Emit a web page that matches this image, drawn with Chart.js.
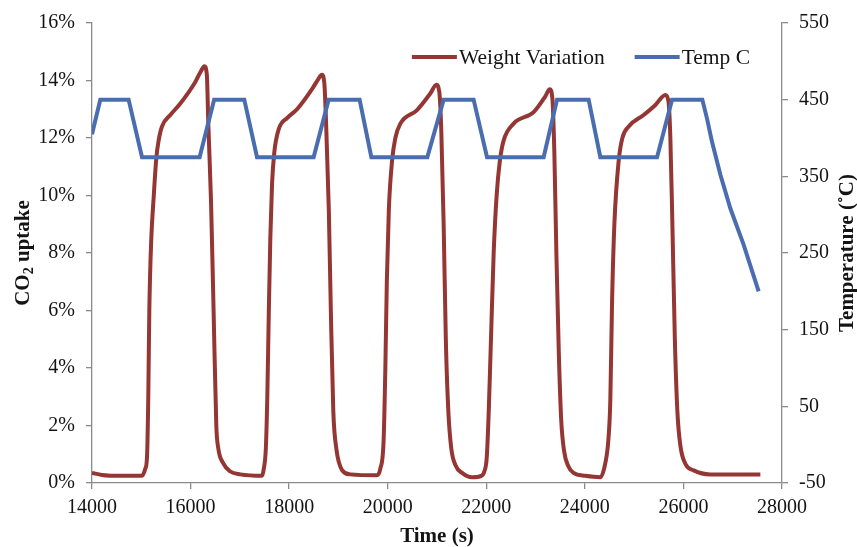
<!DOCTYPE html>
<html>
<head>
<meta charset="utf-8">
<title>CO2 uptake cycles</title>
<script src="https://cdn.jsdelivr.net/npm/chart.js@4.4.1/dist/chart.umd.min.js"></script>
<style>
    html, body { margin: 0; padding: 0; background: #fff; }
    #wrap { width: 857px; height: 547px; }
</style>
</head>
<body>
<div id="wrap"><canvas id="tgaChart" width="857" height="547"></canvas></div>
<script>
// TGA run: sample weight change (%) and furnace temperature vs time
const timeWeight = [
    14000, 14200, 14600, 15015, 15082, 15116, 15142, 15163, 15203, 15250, 15305, 15351, 15420, 15589, 15792, 16096, 16218, 16279,
    16330, 16360, 16415, 16467, 16522, 16563, 16658, 16806, 17009, 17450,
    17486, 17527, 17557, 17588, 17618, 17653, 17699, 17787, 17963, 18160, 18464, 18592, 18663,
    18714, 18754, 18805, 18846, 18896, 18957, 19073, 19241, 19783,
    19850, 19917, 19952, 19982, 20023, 20088, 20155, 20256, 20595, 20865, 20987,
    21047, 21088, 21135, 21179, 21230, 21290, 21380, 21508, 21711, 21900,
    21960, 22010, 22050, 22095, 22150, 22210, 22275, 22350, 22555, 22961, 23198, 23286,
    23340, 23381, 23422, 23472, 23520, 23580, 23660, 23770, 24010, 24314,
    24416, 24477, 24517, 24552, 24599, 24686, 24761, 24889, 25193, 25431, 25633,
    25694, 25735, 25776, 25826, 25877, 25938, 26039, 26208, 26547, 27561
];
const weightPct = [
    0.35, 0.28, 0.25, 0.25, 0.5, 0.9, 3, 6, 8.5, 9.9, 11.3, 11.9, 12.4, 12.8, 13.2, 13.95, 14.35, 14.5,
    14.2, 12.5, 9.8, 6, 2, 1.2, 0.7, 0.4, 0.3, 0.25,
    0.5, 1.2, 3, 6, 8.5, 10.4, 11.5, 12.3, 12.7, 13.0, 13.7, 14.05, 14.2,
    13.9, 12.3, 9.5, 6, 2.5, 1.2, 0.45, 0.3, 0.27,
    0.5, 1.5, 4, 7, 9.5, 11.2, 12.0, 12.5, 12.97, 13.55, 13.85,
    13.6, 12.2, 9, 5, 2.5, 1.2, 0.6, 0.35, 0.2, 0.25,
    0.4, 0.9, 2.5, 5, 8, 10, 11.2, 11.9, 12.5, 12.9, 13.45, 13.7,
    13.4, 11.5, 8, 4.5, 2.2, 1.1, 0.6, 0.35, 0.25, 0.2,
    0.7, 1.5, 2.9, 6.3, 9, 11.2, 12.0, 12.4, 12.8, 13.15, 13.5,
    13.3, 12, 9, 5, 2.5, 1.3, 0.67, 0.44, 0.3, 0.3
];

const timeTemp = [
    14000, 14168, 14743, 15015, 16183, 16478, 17090, 17348, 18497, 18801, 19430, 19668,
    20804, 21135, 21743, 22015, 23164, 23436, 24077, 24314, 25465, 25769, 26384,
    26480, 26580, 26750, 26953, 27221, 27526
];
const tempC = [
    405, 450, 450, 375, 375, 450, 450, 375, 375, 450, 450, 375,
    375, 450, 450, 375, 375, 450, 450, 375, 375, 450, 450,
    425, 395, 352, 308, 261, 200
];

const timeTicks = [14000, 16000, 18000, 20000, 22000, 24000, 26000, 28000];
const uptakeTicks = [0, 2, 4, 6, 8, 10, 12, 14, 16];
const tempTicks = [-50, 50, 150, 250, 350, 450, 550];

const FONT = '"Liberation Serif", "Times New Roman", serif';
const TEXT = '#141414';
const AXIS = '#8a8a8a';

// legend drawn inside the plot, top right
const insideLegend = {
    id: 'insideLegend',
    afterDatasetsDraw(chart) {
        const { ctx, chartArea } = chart;
        const sets = chart.data.datasets;
        const sample = 45, gap = 2, spacing = 30;
        let x = chartArea.right - 32;
        const y = chartArea.top + 34;
        ctx.save();
        ctx.font = '21.5px ' + FONT;
        ctx.textBaseline = 'middle';
        ctx.textAlign = 'left';
        for (let i = sets.length - 1; i >= 0; i--) {
            const w = ctx.measureText(sets[i].label).width;
            x -= w;
            ctx.fillStyle = TEXT;
            ctx.fillText(sets[i].label, x, y + 1);
            x -= gap;
            ctx.strokeStyle = sets[i].borderColor;
            ctx.lineWidth = 4;
            ctx.beginPath();
            ctx.moveTo(x - sample, y);
            ctx.lineTo(x, y);
            ctx.stroke();
            x -= sample + spacing;
        }
        ctx.restore();
    }
};

// both y titles read bottom-to-top; the left one needs a subscript
const sideTitles = {
    id: 'sideTitles',
    afterDraw(chart) {
        const { ctx, chartArea } = chart;
        const midY = (chartArea.top + chartArea.bottom) / 2;
        const big = 'bold 21px ' + FONT;
        const small = 'bold 14px ' + FONT;

        ctx.save();
        ctx.fillStyle = TEXT;
        ctx.textBaseline = 'middle';
        ctx.textAlign = 'left';
        ctx.translate(chart.scales.y.left + 24, midY);
        ctx.rotate(-Math.PI / 2);
        ctx.font = big;
        const wCO = ctx.measureText('CO').width;
        const wRest = ctx.measureText(' uptake').width;
        ctx.font = small;
        const w2 = ctx.measureText('2').width;
        let x = -(wCO + w2 + wRest) / 2;
        ctx.font = big;
        ctx.fillText('CO', x, 0);
        x += wCO;
        ctx.font = small;
        ctx.fillText('2', x, 5);
        x += w2;
        ctx.font = big;
        ctx.fillText(' uptake', x, 0);
        ctx.restore();

        ctx.save();
        ctx.fillStyle = TEXT;
        ctx.textBaseline = 'middle';
        ctx.textAlign = 'center';
        ctx.font = big;
        ctx.translate(chart.scales.y1.right - 9, midY);
        ctx.rotate(-Math.PI / 2);
        ctx.fillText('Temperature (\u02DAC)', 0, 0);
        ctx.restore();
    }
};

function fixedTicks(list) {
    return scale => { scale.ticks = list.map(v => ({ value: v })); };
}

const tickFont = { family: FONT, size: 20 };

new Chart(document.getElementById('tgaChart'), {
    type: 'line',
    data: {
        datasets: [{
            label: 'Weight Variation',
            data: timeWeight.map((t, i) => ({ x: t, y: weightPct[i] })),
            yAxisID: 'y',
            borderColor: '#943634',
            borderWidth: 4,
            pointRadius: 0,
            cubicInterpolationMode: 'monotone',
            order: 1
        }, {
            label: 'Temp C',
            data: timeTemp.map((t, i) => ({ x: t, y: tempC[i] })),
            yAxisID: 'y1',
            borderColor: '#4a6db0',
            borderWidth: 4,
            pointRadius: 0,
            tension: 0,
            order: 0
        }]
    },
    options: {
        responsive: false,
        animation: false,
        layout: { padding: { top: 21, left: 0, right: 0, bottom: 0 } },
        plugins: {
            legend: { display: false },
            tooltip: { enabled: false }
        },
        scales: {
            x: {
                type: 'linear',
                min: 14000,
                max: 28000,
                afterBuildTicks: fixedTicks(timeTicks),
                afterFit: s => { s.height = 64; },
                ticks: {
                    callback: v => String(v),
                    color: TEXT,
                    font: tickFont,
                    padding: 7,
                    maxRotation: 0,
                    autoSkip: false
                },
                grid: { drawOnChartArea: false, tickLength: 6, color: AXIS, lineWidth: 1.3 },
                border: { color: AXIS, width: 1.3 },
                title: {
                    display: true,
                    text: 'Time (s)',
                    color: TEXT,
                    font: { family: FONT, size: 21, weight: 'bold', lineHeight: 1 },
                    padding: { top: 0, bottom: 0 }
                }
            },
            y: {
                position: 'left',
                min: 0,
                max: 16,
                afterBuildTicks: fixedTicks(uptakeTicks),
                afterFit: s => { s.width = 92; },
                ticks: { callback: v => v + '%', color: TEXT, font: tickFont, padding: 11 },
                grid: { drawOnChartArea: false, tickLength: 6, color: AXIS, lineWidth: 1.3 },
                border: { color: AXIS, width: 1.3 }
            },
            y1: {
                position: 'right',
                min: -50,
                max: 550,
                afterBuildTicks: fixedTicks(tempTicks),
                afterFit: s => { s.width = 75; },
                ticks: { color: TEXT, font: tickFont, padding: 11 },
                grid: { drawOnChartArea: false, tickLength: 6, color: AXIS, lineWidth: 1.3 },
                border: { color: AXIS, width: 1.3 }
            }
        }
    },
    plugins: [insideLegend, sideTitles]
});
</script>
</body>
</html>
